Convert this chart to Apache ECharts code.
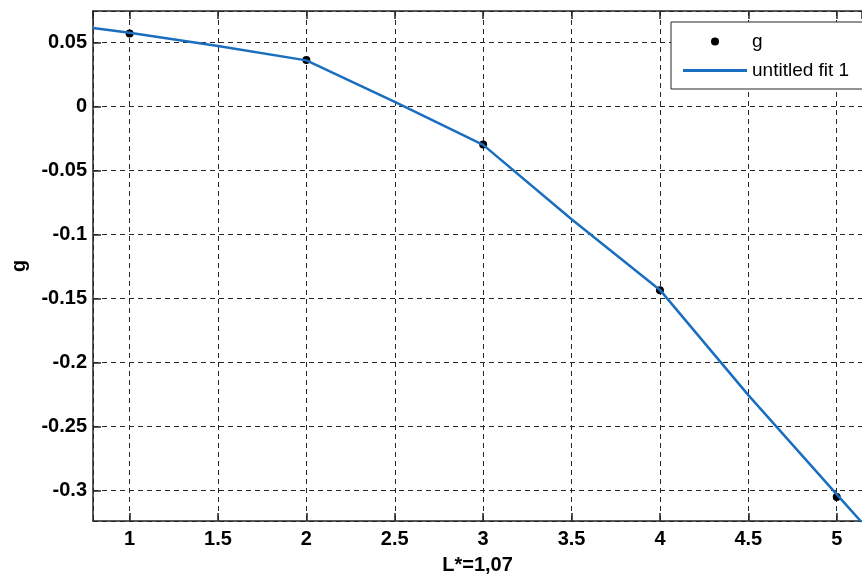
<!DOCTYPE html>
<html>
<head>
<meta charset="utf-8">
<script src="https://cdn.jsdelivr.net/npm/echarts@6/dist/echarts.min.js"></script>
<style>
html,body{margin:0;padding:0;background:#fff;}
#chart{width:862px;height:576px;}
</style>
</head>
<body>
<div id="chart"></div>
<script>
// Data points "g"
var gX = [1, 2, 3, 4, 5];
var gY = [0.0573, 0.0365, -0.0295, -0.1434, -0.305];
// Fit curve "untitled fit 1"
var fitX = [0.793, 1, 1.5, 2, 2.5, 3, 3.5, 4, 4.5, 5, 5.143];
var fitY = [0.0615, 0.0578, 0.0474, 0.0362, 0.0038, -0.0298, -0.088, -0.1432, -0.2254, -0.303, -0.325];
// Axis ranges
var xRange = [0.793, 5.143];
var yRange = [-0.3238, 0.0748];

var axisColor = '#262626';
var labelFont = {fontFamily: 'Liberation Sans, Arial, sans-serif', fontWeight: 'bold', fontSize: 20, color: '#000'};

function near(v, step) {
  var r = Math.round(v / step) * step;
  return Math.abs(v - r) < step * 0.01;
}

var chart = echarts.init(document.getElementById('chart'), null, {renderer: 'canvas'});
chart.setOption({
  animation: false,
  backgroundColor: '#fff',
  grid: {left: 93, top: 11, right: 0, bottom: 55, containLabel: false, outerBoundsMode: 'none'},
  legend: {
    left: 671, top: 22,
    orient: 'vertical',
    padding: [10, 200, 9, 12],
    itemGap: 10,
    itemWidth: 64, itemHeight: 8,
    borderColor: axisColor, borderWidth: 1,
    backgroundColor: '#fff',
    textStyle: {fontFamily: 'Liberation Sans, Arial, sans-serif', fontSize: 19, color: '#000'},
    data: [
      {name: 'g', icon: 'circle'},
      {name: 'untitled fit 1', icon: 'path://M0,0L64,0L64,3L0,3Z'}
    ]
  },
  xAxis: [{
    type: 'value', position: 'bottom',
    min: xRange[0], max: xRange[1], splitNumber: 9,
    name: 'L*=1,07', nameLocation: 'middle', nameGap: 34,
    nameTextStyle: labelFont,
    axisLine: {show: true, onZero: false, lineStyle: {color: axisColor, width: 1.5}},
    axisTick: {show: true, inside: true, length: 8, lineStyle: {color: axisColor, width: 1.5}},
    axisLabel: Object.assign({margin: 8, showMinLabel: false, showMaxLabel: false,
      formatter: function (v) { return near(v, 0.5) ? String(parseFloat(v.toFixed(2))) : ''; }}, labelFont),
    splitLine: {show: true, lineStyle: {color: axisColor, width: 1, type: [5, 4]}}
  }, {
    type: 'value', position: 'top',
    min: xRange[0], max: xRange[1], splitNumber: 9,
    axisLine: {show: true, onZero: false, lineStyle: {color: axisColor, width: 1.5}},
    axisTick: {show: true, inside: true, length: 8, lineStyle: {color: axisColor, width: 1.5}},
    axisLabel: {show: false},
    splitLine: {show: false}
  }],
  yAxis: [{
    type: 'value', position: 'left',
    min: yRange[0], max: yRange[1], splitNumber: 8,
    name: 'g', nameLocation: 'middle', nameGap: 64,
    nameTextStyle: labelFont,
    axisLine: {show: true, onZero: false, lineStyle: {color: axisColor, width: 1.5}},
    axisTick: {show: true, inside: true, length: 8, lineStyle: {color: axisColor, width: 1.5}},
    axisLabel: Object.assign({margin: 6, showMinLabel: false, showMaxLabel: false,
      formatter: function (v) { return near(v, 0.05) ? String(parseFloat(v.toFixed(2))) : ''; }}, labelFont),
    splitLine: {show: true, lineStyle: {color: axisColor, width: 1, type: [5, 4]}}
  }],
  series: [{
    name: 'g', type: 'scatter',
    data: gX.map(function (x, i) { return [x, gY[i]]; }),
    symbol: 'circle', symbolSize: 8,
    itemStyle: {color: '#000', opacity: 1}
  }, {
    name: 'untitled fit 1', type: 'line',
    data: fitX.map(function (x, i) { return [x, fitY[i]]; }),
    showSymbol: false, symbol: 'none', clip: true,
    lineStyle: {color: '#1a6ebf', width: 2.5},
    itemStyle: {color: '#1a6ebf'}
  }]
});
</script>
</body>
</html>
